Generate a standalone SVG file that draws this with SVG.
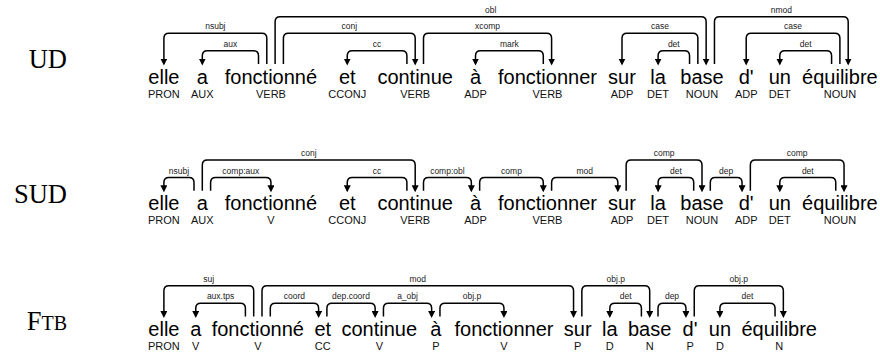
<svg xmlns="http://www.w3.org/2000/svg" width="880" height="352" viewBox="0 0 880 352">
<style>
.w{font-family:"Liberation Sans",Arial,sans-serif;font-size:20px;fill:#000;text-anchor:middle}
.p{font-family:"Liberation Sans",Arial,sans-serif;font-size:11px;fill:#111;text-anchor:middle}
.l{font-family:"Liberation Sans",Arial,sans-serif;font-size:8.5px;fill:#222;text-anchor:middle}
.row{font-family:"Liberation Serif","Times New Roman",serif;font-size:26.5px;fill:#000;text-anchor:end}
.a{fill:none;stroke:#000;stroke-width:1.5;marker-end:url(#ah)}
</style>
<defs>
<marker id="ah" markerWidth="7" markerHeight="7" refX="5" refY="3.5" orient="auto" markerUnits="userSpaceOnUse" viewBox="0 0 7 7"><path d="M0,0 L7,3.5 L0,7 z" fill="#000"/></marker>
</defs>
<g id="row-labels">
<text class="row" x="67" y="68">UD</text>
<text class="row" x="67" y="203">SUD</text>
<text class="row" x="67" y="330">F<tspan font-size="20">TB</tspan></text>
</g>
<!-- UD nodes -->
<g id="ud-1"><text class="w" x="163.9" y="83.5">elle</text><text class="p" x="163.9" y="97.5">PRON</text></g>
<g id="ud-2"><text class="w" x="202.3" y="83.5">a</text><text class="p" x="202.3" y="97.5">AUX</text></g>
<g id="ud-3"><text class="w" x="270.95" y="83.5">fonctionné</text><text class="p" x="270.95" y="97.5">VERB</text></g>
<g id="ud-4"><text class="w" x="347.25" y="83.5">et</text><text class="p" x="347.25" y="97.5">CCONJ</text></g>
<g id="ud-5"><text class="w" x="415.2" y="83.5">continue</text><text class="p" x="415.2" y="97.5">VERB</text></g>
<g id="ud-6"><text class="w" x="475.5" y="83.5">à</text><text class="p" x="475.5" y="97.5">ADP</text></g>
<g id="ud-7"><text class="w" x="547.45" y="83.5">fonctionner</text><text class="p" x="547.45" y="97.5">VERB</text></g>
<g id="ud-8"><text class="w" x="622" y="83.5">sur</text><text class="p" x="622" y="97.5">ADP</text></g>
<g id="ud-9"><text class="w" x="658.1" y="83.5">la</text><text class="p" x="658.1" y="97.5">DET</text></g>
<g id="ud-10"><text class="w" x="702" y="83.5">base</text><text class="p" x="702" y="97.5">NOUN</text></g>
<g id="ud-11"><text class="w" x="746.2" y="83.5">d'</text><text class="p" x="746.2" y="97.5">ADP</text></g>
<g id="ud-12"><text class="w" x="779.8" y="83.5">un</text><text class="p" x="779.8" y="97.5">DET</text></g>
<g id="ud-13"><text class="w" x="839.9" y="83.5">équilibre</text><text class="p" x="839.9" y="97.5">NOUN</text></g>
<!-- SUD nodes -->
<g id="sud-1"><text class="w" x="163.9" y="210.3">elle</text><text class="p" x="163.9" y="224.3">PRON</text></g>
<g id="sud-2"><text class="w" x="202.3" y="210.3">a</text><text class="p" x="202.3" y="224.3">AUX</text></g>
<g id="sud-3"><text class="w" x="270.95" y="210.3">fonctionné</text><text class="p" x="270.95" y="224.3">V</text></g>
<g id="sud-4"><text class="w" x="347.25" y="210.3">et</text><text class="p" x="347.25" y="224.3">CCONJ</text></g>
<g id="sud-5"><text class="w" x="415.2" y="210.3">continue</text><text class="p" x="415.2" y="224.3">VERB</text></g>
<g id="sud-6"><text class="w" x="475.5" y="210.3">à</text><text class="p" x="475.5" y="224.3">ADP</text></g>
<g id="sud-7"><text class="w" x="547.45" y="210.3">fonctionner</text><text class="p" x="547.45" y="224.3">VERB</text></g>
<g id="sud-8"><text class="w" x="622" y="210.3">sur</text><text class="p" x="622" y="224.3">ADP</text></g>
<g id="sud-9"><text class="w" x="658.1" y="210.3">la</text><text class="p" x="658.1" y="224.3">DET</text></g>
<g id="sud-10"><text class="w" x="702" y="210.3">base</text><text class="p" x="702" y="224.3">NOUN</text></g>
<g id="sud-11"><text class="w" x="746.2" y="210.3">d'</text><text class="p" x="746.2" y="224.3">ADP</text></g>
<g id="sud-12"><text class="w" x="779.8" y="210.3">un</text><text class="p" x="779.8" y="224.3">DET</text></g>
<g id="sud-13"><text class="w" x="839.9" y="210.3">équilibre</text><text class="p" x="839.9" y="224.3">NOUN</text></g>
<!-- FTB nodes -->
<g id="ftb-1"><text class="w" x="163.9" y="336">elle</text><text class="p" x="163.9" y="350">PRON</text></g>
<g id="ftb-2"><text class="w" x="195.75" y="336">a</text><text class="p" x="195.75" y="350">V</text></g>
<g id="ftb-3"><text class="w" x="257.85" y="336">fonctionné</text><text class="p" x="257.85" y="350">V</text></g>
<g id="ftb-4"><text class="w" x="322.75" y="336">et</text><text class="p" x="322.75" y="350">CC</text></g>
<g id="ftb-5"><text class="w" x="379.3" y="336">continue</text><text class="p" x="379.3" y="350">V</text></g>
<g id="ftb-6"><text class="w" x="435.8" y="336">à</text><text class="p" x="435.8" y="350">P</text></g>
<g id="ftb-7"><text class="w" x="503.95" y="336">fonctionner</text><text class="p" x="503.95" y="350">V</text></g>
<g id="ftb-8"><text class="w" x="577.7" y="336">sur</text><text class="p" x="577.7" y="350">P</text></g>
<g id="ftb-9"><text class="w" x="609.8" y="336">la</text><text class="p" x="609.8" y="350">D</text></g>
<g id="ftb-10"><text class="w" x="649.7" y="336">base</text><text class="p" x="649.7" y="350">N</text></g>
<g id="ftb-11"><text class="w" x="690.1" y="336">d'</text><text class="p" x="690.1" y="350">P</text></g>
<g id="ftb-12"><text class="w" x="719.9" y="336">un</text><text class="p" x="719.9" y="350">D</text></g>
<g id="ftb-13"><text class="w" x="779.2" y="336">équilibre</text><text class="p" x="779.2" y="350">N</text></g>
<g id="connectors">
<!-- UD -->
<path class="a" d="M266.8,64 V38.3 Q266.8,33.3 261.8,33.3 H168.9 Q163.9,33.3 163.9,38.3 V63.5"/>
<text class="l" x="215.35" y="29.3">nsubj</text>
<path class="a" d="M258.5,64 V55.7 Q258.5,50.7 253.5,50.7 H207.3 Q202.3,50.7 202.3,55.7 V63.5"/>
<text class="l" x="230.4" y="46.7">aux</text>
<path class="a" d="M283.4,64 V38.3 Q283.4,33.3 288.4,33.3 H410.2 Q415.2,33.3 415.2,38.3 V63.5"/>
<text class="l" x="349.3" y="29.3">conj</text>
<path class="a" d="M406.9,64 V55.7 Q406.9,50.7 401.9,50.7 H352.25 Q347.25,50.7 347.25,55.7 V63.5"/>
<text class="l" x="377.1" y="46.7">cc</text>
<path class="a" d="M423.5,64 V38.3 Q423.5,33.3 428.5,33.3 H546.6 Q551.6,33.3 551.6,38.3 V63.5"/>
<text class="l" x="487.55" y="29.3">xcomp</text>
<path class="a" d="M543.3,64 V55.7 Q543.3,50.7 538.3,50.7 H480.5 Q475.5,50.7 475.5,55.7 V63.5"/>
<text class="l" x="509.4" y="46.7">mark</text>
<path class="a" d="M275.1,64 V21.7 Q275.1,16.7 280.1,16.7 H701.15 Q706.15,16.7 706.15,21.7 V63.5"/>
<text class="l" x="490.6" y="12.7">obl</text>
<path class="a" d="M697.85,64 V38.3 Q697.85,33.3 692.85,33.3 H627 Q622,33.3 622,38.3 V63.5"/>
<text class="l" x="659.9" y="29.3">case</text>
<path class="a" d="M689.55,64 V55.7 Q689.55,50.7 684.55,50.7 H663.1 Q658.1,50.7 658.1,55.7 V63.5"/>
<text class="l" x="673.8" y="46.7">det</text>
<path class="a" d="M714.45,64 V21.7 Q714.45,16.7 719.45,16.7 H843.2 Q848.2,16.7 848.2,21.7 V63.5"/>
<text class="l" x="781.3" y="12.7">nmod</text>
<path class="a" d="M839.9,64 V38.3 Q839.9,33.3 834.9,33.3 H751.2 Q746.2,33.3 746.2,38.3 V63.5"/>
<text class="l" x="793.05" y="29.3">case</text>
<path class="a" d="M831.6,64 V55.7 Q831.6,50.7 826.6,50.7 H784.8 Q779.8,50.7 779.8,55.7 V63.5"/>
<text class="l" x="805.7" y="46.7">det</text>
<!-- SUD -->
<path class="a" d="M194,190.8 V182.5 Q194,177.5 189,177.5 H168.9 Q163.9,177.5 163.9,182.5 V190.3"/>
<text class="l" x="178.95" y="173.5">nsubj</text>
<path class="a" d="M202.3,190.8 V165.1 Q202.3,160.1 207.3,160.1 H410.2 Q415.2,160.1 415.2,165.1 V190.3"/>
<text class="l" x="308.75" y="156.1">conj</text>
<path class="a" d="M210.6,190.8 V182.5 Q210.6,177.5 215.6,177.5 H265.95 Q270.95,177.5 270.95,182.5 V190.3"/>
<text class="l" x="240.8" y="173.5">comp:aux</text>
<path class="a" d="M406.9,190.8 V182.5 Q406.9,177.5 401.9,177.5 H352.25 Q347.25,177.5 347.25,182.5 V190.3"/>
<text class="l" x="377.1" y="173.5">cc</text>
<path class="a" d="M423.5,190.8 V182.5 Q423.5,177.5 428.5,177.5 H466.35 Q471.35,177.5 471.35,182.5 V190.3"/>
<text class="l" x="447.4" y="173.5">comp:obl</text>
<path class="a" d="M479.65,190.8 V182.5 Q479.65,177.5 484.65,177.5 H538.3 Q543.3,177.5 543.3,182.5 V190.3"/>
<text class="l" x="511.5" y="173.5">comp</text>
<path class="a" d="M551.6,190.8 V182.5 Q551.6,177.5 556.6,177.5 H612.85 Q617.85,177.5 617.85,182.5 V190.3"/>
<text class="l" x="584.7" y="173.5">mod</text>
<path class="a" d="M626.15,190.8 V165.1 Q626.15,160.1 631.15,160.1 H697 Q702,160.1 702,165.1 V190.3"/>
<text class="l" x="664.1" y="156.1">comp</text>
<path class="a" d="M693.7,190.8 V182.5 Q693.7,177.5 688.7,177.5 H663.1 Q658.1,177.5 658.1,182.5 V190.3"/>
<text class="l" x="675.9" y="173.5">det</text>
<path class="a" d="M710.3,190.8 V182.5 Q710.3,177.5 715.3,177.5 H737.05 Q742.05,177.5 742.05,182.5 V190.3"/>
<text class="l" x="726.2" y="173.5">dep</text>
<path class="a" d="M750.35,190.8 V165.1 Q750.35,160.1 755.35,160.1 H839.05 Q844.05,160.1 844.05,165.1 V190.3"/>
<text class="l" x="797.2" y="156.1">comp</text>
<path class="a" d="M835.75,190.8 V182.5 Q835.75,177.5 830.75,177.5 H784.8 Q779.8,177.5 779.8,182.5 V190.3"/>
<text class="l" x="807.8" y="173.5">det</text>
<!-- FTB -->
<path class="a" d="M253.7,316.5 V290.8 Q253.7,285.8 248.7,285.8 H168.9 Q163.9,285.8 163.9,290.8 V316"/>
<text class="l" x="208.8" y="281.8">suj</text>
<path class="a" d="M245.4,316.5 V308.2 Q245.4,303.2 240.4,303.2 H200.75 Q195.75,303.2 195.75,308.2 V316"/>
<text class="l" x="220.6" y="299.2">aux.tps</text>
<path class="a" d="M262,316.5 V290.8 Q262,285.8 267,285.8 H568.55 Q573.55,285.8 573.55,290.8 V316"/>
<text class="l" x="417.8" y="281.8">mod</text>
<path class="a" d="M270.3,316.5 V308.2 Q270.3,303.2 275.3,303.2 H313.6 Q318.6,303.2 318.6,308.2 V316"/>
<text class="l" x="294.45" y="299.2">coord</text>
<path class="a" d="M326.9,316.5 V308.2 Q326.9,303.2 331.9,303.2 H370.15 Q375.15,303.2 375.15,308.2 V316"/>
<text class="l" x="351" y="299.2">dep.coord</text>
<path class="a" d="M383.45,316.5 V308.2 Q383.45,303.2 388.45,303.2 H426.65 Q431.65,303.2 431.65,308.2 V316"/>
<text class="l" x="407.55" y="299.2">a_obj</text>
<path class="a" d="M439.95,316.5 V308.2 Q439.95,303.2 444.95,303.2 H498.95 Q503.95,303.2 503.95,308.2 V316"/>
<text class="l" x="471.95" y="299.2">obj.p</text>
<path class="a" d="M581.85,316.5 V290.8 Q581.85,285.8 586.85,285.8 H644.7 Q649.7,285.8 649.7,290.8 V316"/>
<text class="l" x="615.8" y="281.8">obj.p</text>
<path class="a" d="M641.4,316.5 V308.2 Q641.4,303.2 636.4,303.2 H614.8 Q609.8,303.2 609.8,308.2 V316"/>
<text class="l" x="625.6" y="299.2">det</text>
<path class="a" d="M658,316.5 V308.2 Q658,303.2 663,303.2 H680.95 Q685.95,303.2 685.95,308.2 V316"/>
<text class="l" x="672" y="299.2">dep</text>
<path class="a" d="M694.25,316.5 V290.8 Q694.25,285.8 699.25,285.8 H778.35 Q783.35,285.8 783.35,290.8 V316"/>
<text class="l" x="738.8" y="281.8">obj.p</text>
<path class="a" d="M775.05,316.5 V308.2 Q775.05,303.2 770.05,303.2 H724.9 Q719.9,303.2 719.9,308.2 V316"/>
<text class="l" x="747.5" y="299.2">det</text>
</g>
</svg>
